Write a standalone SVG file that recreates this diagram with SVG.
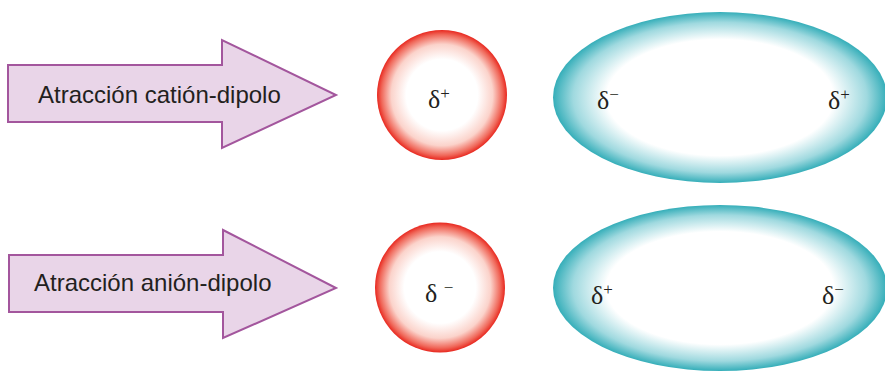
<svg xmlns="http://www.w3.org/2000/svg" width="885" height="372" viewBox="0 0 885 372">
<defs>
<radialGradient id="gRed" cx="0.5" cy="0.5" r="0.5">
<stop offset="0" stop-color="#ffffff"/>
<stop offset="0.55" stop-color="#ffffff"/>
<stop offset="0.78" stop-color="#fbd3cb"/>
<stop offset="0.93" stop-color="#f0685a"/>
<stop offset="1" stop-color="#e8281f"/>
</radialGradient>
<radialGradient id="gTeal" cx="0.5" cy="0.5" r="0.5">
<stop offset="0" stop-color="#ffffff"/>
<stop offset="0.68" stop-color="#ffffff"/>
<stop offset="0.88" stop-color="#9fd9df"/>
<stop offset="1" stop-color="#35aeb9"/>
</radialGradient>
</defs>
<style>
.arrow{fill:#e9d5e8;stroke:#a3569d;stroke-width:2;stroke-linejoin:miter}
.lbl{font-family:"Liberation Sans",Arial,sans-serif;font-size:24px;fill:#231f20}
.d{font-family:"Liberation Serif","Times New Roman",serif;font-size:26px;fill:#231f20}
.sup{font-size:17px}
</style>
<rect width="885" height="372" fill="#ffffff"/>
<g id="arrow-cation">
<polygon class="arrow" points="8,65 222,65 222,40 336,95 222,148 222,122 8,122"/>
<text class="lbl" x="38" y="103">Atracción catión-dipolo</text>
</g>
<g id="cation">
<circle cx="442" cy="95" r="65" fill="url(#gRed)"/>
<text class="d" x="428" y="108">δ<tspan class="sup" dy="-9">+</tspan></text>
</g>
<g id="dipole-1">
<ellipse cx="720" cy="97.5" rx="167" ry="85.5" fill="url(#gTeal)"/>
<text class="d" x="597" y="109">δ<tspan class="sup" dy="-9">−</tspan></text>
<text class="d" x="828" y="109">δ<tspan class="sup" dy="-9">+</tspan></text>
</g>
<g id="arrow-anion">
<polygon class="arrow" points="9,255 223,255 223,230 336,288 223,338 223,312 9,312"/>
<text class="lbl" x="34" y="291">Atracción anión-dipolo</text>
</g>
<g id="anion">
<circle cx="440" cy="287.5" r="65" fill="url(#gRed)"/>
<text class="d" x="425" y="302">δ <tspan class="sup" dy="-9">−</tspan></text>
</g>
<g id="dipole-2">
<ellipse cx="720" cy="288" rx="167" ry="83" fill="url(#gTeal)"/>
<text class="d" x="591" y="304">δ<tspan class="sup" dy="-9">+</tspan></text>
<text class="d" x="822" y="304">δ<tspan class="sup" dy="-9">−</tspan></text>
</g>
<g id="connectors"/>
</svg>
